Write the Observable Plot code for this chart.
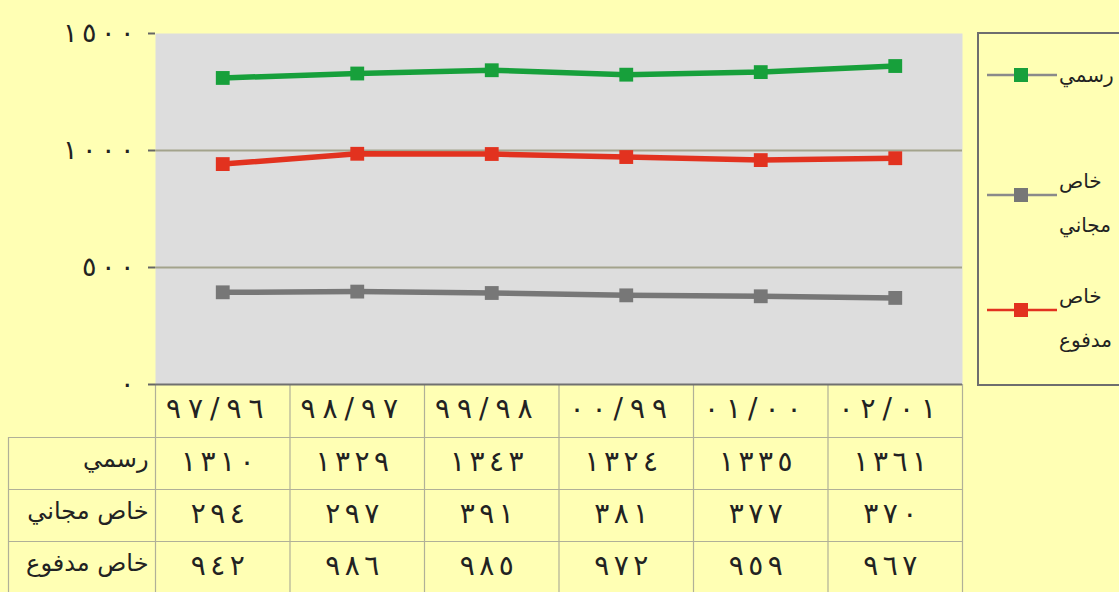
<!DOCTYPE html>
<html><head><meta charset="utf-8">
<script src="https://cdn.jsdelivr.net/npm/d3@7"></script>
<script src="https://cdn.jsdelivr.net/npm/@observablehq/plot@0.6"></script>
<style>
html,body{margin:0;padding:0;background:#ffffb4;overflow:hidden;width:1119px;height:592px}
#wrap{position:relative;width:1119px;height:592px}
#chart svg{display:block}
#legend{position:absolute;left:977px;top:32px;width:170px;height:354px;border:2px solid #6e6e6e;box-sizing:border-box;font-family:"DejaVu Sans";font-size:20px;color:#222}
.item{position:absolute;left:8px;width:150px;height:90px}
.item svg{position:absolute;left:0;top:0}
.lab{position:absolute;left:72px;white-space:nowrap;direction:rtl;text-align:left;line-height:24px}
</style></head>
<body><div id="wrap"><div id="chart"></div><div id="legend"></div></div>
<script>
// ---- data ----
const categories = ["٩٧/٩٦", "٩٨/٩٧", "٩٩/٩٨", "٠٠/٩٩", "٠١/٠٠", "٠٢/٠١"];
const seriesNames = ["رسمي", "خاص مجاني", "خاص مدفوع"];
const official = [1310, 1329, 1343, 1324, 1335, 1361];
const privateFree = [394, 397, 391, 381, 377, 370];
const privatePaid = [942, 986, 985, 972, 959, 967];
const privateFreeTableText = ["٢٩٤", "٢٩٧", "٣٩١", "٣٨١", "٣٧٧", "٣٧٠"];
const yTicks = [0, 500, 1000, 1500];
const colors = ["#17a03b", "#777777", "#e2321f"];
const legendLineColors = ["#8a8a8a", "#8a8a8a", "#e2321f"];

// ---- helpers ----
const ar = v => String(v).replace(/\d/g, c => "٠١٢٣٤٥٦٧٨٩"[+c]);
const seriesValues = [official, privateFree, privatePaid];
const tableText = [official.map(ar), privateFreeTableText, privatePaid.map(ar)];
const long = [];
seriesValues.forEach((vals, s) => vals.forEach((v, i) => long.push({series: seriesNames[s], i, v})));

const W = 1119, H = 592, mL = 155, mR = 157, mT = 33, mB = 208;
const frameH = H - mT - mB;
const rowH = 52;
const headH = 53;
const gridColor = "#b0b098";
const font = "DejaVu Sans";

const marks = [
  Plot.frame({fill: "#dddddd", stroke: null}),
  Plot.ruleY([500, 1000], {stroke: "#a3a38c", strokeWidth: 2}),
  // table vertical lines
  Plot.ruleX(d3.range(categories.length + 1), {x: d => d, stroke: gridColor, strokeWidth: 1.2, insetTop: frameH, insetBottom: -mB}),
  Plot.ruleX([0], {x: d => d, dx: -(mL - 8), stroke: gridColor, strokeWidth: 1.2, insetTop: frameH + headH, insetBottom: -mB}),
  // table horizontal lines
  ...[0, 1, 2].map(r => Plot.ruleY([0], {y: d => d, dy: headH + r * rowH, insetLeft: -(mL - 8), stroke: gridColor, strokeWidth: 1.2})),
  // x axis line
  Plot.ruleY([0], {y: d => d, stroke: "#707070", strokeWidth: 2}),
  Plot.axisY({ticks: yTicks, tickFormat: ar, label: null, tickSize: 7, tickPadding: 14, fontSize: 27, stroke: "#666", strokeWidth: 2, fill: "#222", fontFamily: font}),
  // series
  ...seriesNames.map((name, s) => Plot.line(long.filter(d => d.series === name), {x: d => d.i + 0.5, y: "v", stroke: colors[s], strokeWidth: 5.5})),
  ...seriesNames.map((name, s) => Plot.dot(long.filter(d => d.series === name), {x: d => d.i + 0.5, y: "v", symbol: "square", fill: colors[s], stroke: null, r: 7.8})),
  // table header
  Plot.text(categories, {x: (d, i) => i + 0.5, text: d => d, frameAnchor: "bottom", dy: 33, dx: -8, fontSize: 28, fontFamily: font, fill: "#222"}),
  // table rows
  ...tableText.map((row, r) => Plot.text(row, {x: (d, i) => i + 0.5, text: d => d, frameAnchor: "bottom", dy: headH + r * rowH + 33, dx: -5, fontSize: 28, fontFamily: font, fill: "#222"})),
  ...seriesNames.map((name, r) => Plot.text([name], {text: d => d, frameAnchor: "bottom-left", dx: -7, dy: headH + r * rowH + 29, textAnchor: "end", fontSize: 24, fontFamily: font, fill: "#222"}))
];

const chart = Plot.plot({
  width: W, height: H,
  marginLeft: mL, marginRight: mR, marginTop: mT, marginBottom: mB,
  x: {type: "linear", domain: [0, categories.length], axis: null},
  y: {domain: [0, 1500], axis: null},
  style: {background: "transparent", fontFamily: font, overflow: "visible"},
  marks
});
// spread digits apart (letter-spacing is ignored for Arabic runs)
d3.select(chart).selectAll("text").each(function() {
  const t = d3.select(this);
  const s = t.text();
  if (!/^[٠-٩\/]+$/.test(s)) return;
  const gap = s.includes("/") ? 7 : 4.5;
  t.text(null);
  [...s].forEach((c, k) => t.append("tspan").attr("dx", k === 0 ? null : gap).text(c));
});
document.getElementById("chart").appendChild(chart);

// legend
const legend = document.getElementById("legend");
const legendItems = [
  {top: 41, lines: ["رسمي"]},
  {top: 161, lines: ["خاص", "مجاني"]},
  {top: 276, lines: ["خاص", "مدفوع"]}
];
legendItems.forEach((it, s) => {
  const div = document.createElement("div");
  div.className = "item";
  div.style.top = (it.top - 10) + "px";
  let html = `<svg width="72" height="20"><line x1="0" x2="70" y1="10" y2="10" stroke="${legendLineColors[s]}" stroke-width="2.5"/><rect x="27" y="3" width="14" height="14" fill="${colors[s]}"/></svg>`;
  it.lines.forEach((t, k) => {
    const top = it.lines.length > 1 ? -16 + k * 44 : -2;
    html += `<div class="lab" style="top:${top}px">${t}</div>`;
  });
  div.innerHTML = html;
  legend.appendChild(div);
});
</script></body></html>
